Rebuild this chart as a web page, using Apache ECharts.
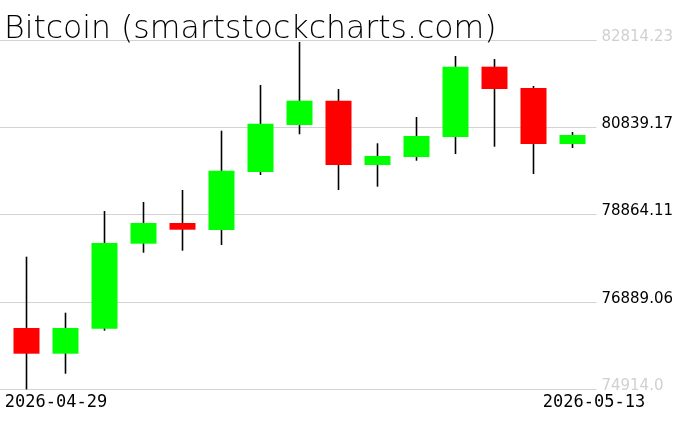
<!DOCTYPE html>
<html>
<head>
<meta charset="utf-8">
<script src="https://cdn.jsdelivr.net/npm/echarts@6/dist/echarts.min.js"></script>
<style>
html,body{margin:0;padding:0;background:#fff;}
#chart{width:676px;height:431px;}
</style>
</head>
<body>
<div id="chart"></div>
<script>
const dates = ['2026-04-29','2026-04-30','2026-05-01','2026-05-02','2026-05-03','2026-05-04','2026-05-05','2026-05-06','2026-05-07','2026-05-08','2026-05-09','2026-05-10','2026-05-11','2026-05-12','2026-05-13'];
const opens  = [76295, 75713, 76279, 78203, 78672, 78513, 79826, 80890, 81440, 79985, 80166, 80619, 82210, 81728, 80460];
const closes = [75713, 76295, 78219, 78672, 78520, 79856, 80920, 81440, 79985, 80188, 80641, 82210, 81705, 80460, 80664];
const lows   = [74905, 75260, 76234, 77999, 78045, 78174, 79758, 80680, 79419, 79494, 80082, 80234, 80399, 79781, 80369];
const highs  = [77909, 76641, 78943, 79147, 79419, 80761, 81796, 82769, 81705, 80476, 81071, 82452, 82384, 81773, 80732];
const yTickLabels = ['74914.0','76889.06','78864.11','80839.17','82814.23'];
const xLabelDates = ['2026-04-29','2026-05-13'];
const yMin = 74914.0, yMax = 82814.23;
const yStep = (yMax - yMin) / 4;

const wickData = dates.map((d,i)=>[opens[i], closes[i], lows[i], highs[i]]);
const bodyData = dates.map((d,i)=>[opens[i], closes[i], Math.min(opens[i],closes[i]), Math.max(opens[i],closes[i])]);

const chart = echarts.init(document.getElementById('chart'), null, {renderer:'canvas'});
const labelFont = 'DejaVu Sans';
chart.setOption({
  animation:false,
  backgroundColor:'#ffffff',
  title:{
    text:'Bitcoin (smartstockcharts.com)',
    left:4, top:14, padding:0,
    textStyle:{fontFamily:'"DejaVu Sans Light", "DejaVu Sans ExtraLight", "DejaVu Sans"', fontSize:31.5, fontWeight:200, color:'#000'}
  },
  grid:[
    {left:0, right:78, top:40, bottom:42, containLabel:false},
    {left:7, right:84, top:40, bottom:42, containLabel:false}
  ],
  xAxis:[
    {type:'category', gridIndex:0, data:dates, show:false},
    {type:'category', gridIndex:1, data:dates, boundaryGap:true,
     axisLine:{show:false}, axisTick:{show:false}, splitLine:{show:false},
     axisLabel:{
       interval:function(i, v){ return xLabelDates.indexOf(v) >= 0; },
       margin:5,
       formatter:function(v){ return v === xLabelDates[0] ? '{a|'+v+'}' : '{b|'+v+'}'; },
       rich:{
         a:{fontFamily:'DejaVu Sans Mono', fontSize:17, color:'#000', padding:[0,0,0,59]},
         b:{fontFamily:'DejaVu Sans Mono', fontSize:17, color:'#000', padding:[0,0,0,43]}
       }
     }}
  ],
  yAxis:[
    {type:'value', gridIndex:0, position:'right', min:yMin, max:yMax, interval:yStep,
     axisLine:{show:false}, axisTick:{show:false},
     splitLine:{show:true, lineStyle:{color:'#d3d3d3', width:1}},
     axisLabel:{
       margin:5, fontFamily:labelFont, fontSize:15, verticalAlign:'bottom', lineHeight:6,
       formatter:function(v){ return yTickLabels[Math.round((v - yMin)/yStep)]; },
       color:function(v){ const k = Math.round((Number(v) - yMin)/yStep); return (k===0||k===4) ? '#d0d0d0' : '#000'; }
     }},
    {type:'value', gridIndex:1, min:yMin, max:yMax, interval:yStep, show:false, splitLine:{show:false}}
  ],
  series:[
    {type:'candlestick', xAxisIndex:1, yAxisIndex:1, data:wickData, barWidth:1,
     itemStyle:{color:'#000', color0:'#000', borderColor:'#000', borderColor0:'#000', borderWidth:1.6}},
    {type:'candlestick', xAxisIndex:1, yAxisIndex:1, data:bodyData, barWidth:27,
     itemStyle:{color:'#00ff00', color0:'#ff0000', borderColor:'#00ff00', borderColor0:'#ff0000', borderWidth:0}}
  ]
});
</script>
</body>
</html>
